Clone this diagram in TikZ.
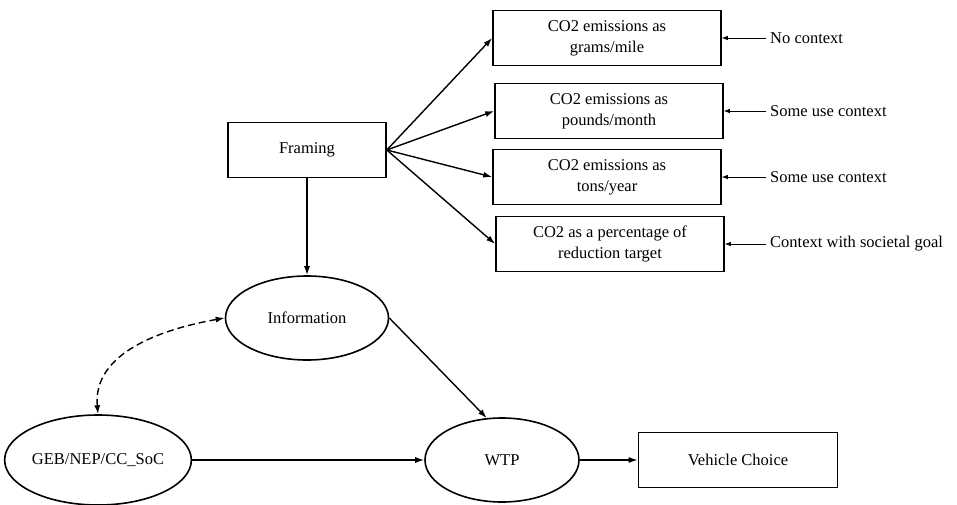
\documentclass[tikz,border=0pt]{standalone}
\usepackage{fontspec}
\setmainfont{Liberation Serif}
\usetikzlibrary{arrows.meta,shapes.geometric}
\begin{document}
\begin{tikzpicture}[x=1pt, y=-1pt]
	\tikzstyle{frame} = [ draw, rectangle, line width=1.6pt, minimum height=55pt, align=center, inner sep=0pt, font={\fontsize{16.5}{21}\selectfont} ];
	\tikzstyle{latent} = [ draw, ellipse, line width=1.6pt, inner sep=0pt, font={\fontsize{16.5}{21}\selectfont} ];
	\tikzstyle{info} = [ anchor=west, inner sep=4pt, font={\fontsize{16.5}{21}\selectfont} ];
	\tikzstyle{link} = [ -{Latex[length=9pt,width=6pt]}, line width=1.4pt ];
	\tikzstyle{hint} = [ -{Latex[length=6pt,width=4.5pt]}, line width=0.7pt ];

	\useasboundingbox (0,0) rectangle (957,505);

	\node[frame, minimum width=158pt] (framing) at (307,150) {Framing};

	% the four ways of framing, each with its context
	\foreach \x/\y/\txt/\ctx [count=\i] in {
		607/38/{CO2 emissions as\\grams/mile}/{No context},
		609/111/{CO2 emissions as\\pounds/month}/{Some use context},
		607/177/{CO2 emissions as\\tons/year}/{Some use context},
		610/244/{CO2 as a percentage of\\reduction target}/{Context with societal goal}} {
		\node[frame, minimum width=228pt] (box\i) at (\x,\y) {\txt};
		\node[info] (ctx\i) at (766,\y) {\ctx};
		\draw[link] (framing.east) -- (box\i.west);
		\draw[hint] (ctx\i.west) -- (ctx\i.west -| box\i.east);
	}

	\node[latent, minimum width=163pt, minimum height=84pt] (info) at (307,318) {Information};
	\node[latent, minimum width=182pt, minimum height=90pt] (geb) at (98,460) {GEB/NEP/CC\_SoC};
	\node[latent, minimum width=154pt, minimum height=84pt] (wtp) at (502,460) {WTP};
	\node[frame, minimum width=199pt] (choice) at (738,460) {Vehicle Choice};

	\draw[link] (framing) -- (info);
	\draw[link] (info.east) -- (wtp.110);
	\draw[link] (geb.east) -- (wtp.west);
	\draw[link] (wtp.east) -- (choice.west);
	\draw[link, {Latex[length=9pt,width=6pt]}-{Latex[length=9pt,width=6pt]}, dash pattern=on 7pt off 4pt] (geb.north) to[out=95, in=190] (info.west);

\end{tikzpicture}
\end{document}
